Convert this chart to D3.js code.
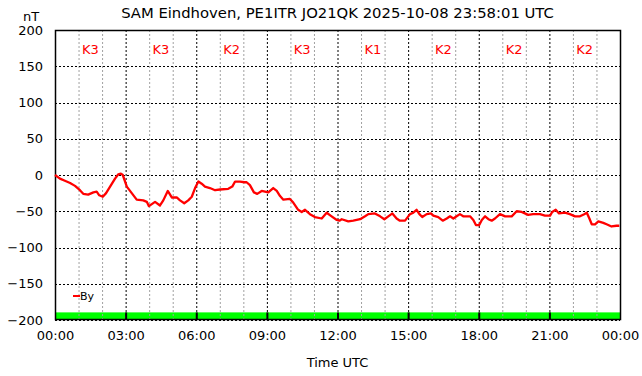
<!DOCTYPE html>
<html><head><meta charset="utf-8">
<script src="https://cdn.jsdelivr.net/npm/d3@7"></script>
<style>
html,body{margin:0;padding:0;background:#fff;}
svg{display:block;font-family:"DejaVu Sans",sans-serif;}
</style></head>
<body>
<svg id="chart" width="642" height="376"></svg>
<script>
// Hours since 00:00 UTC
const times = [0.00,0.21,0.42,0.64,0.85,1.06,1.20,1.41,1.63,1.77,1.88,2.03,2.17,2.34,2.55,2.69,2.80,2.88,3.05,3.26,3.47,3.75,3.90,3.99,
4.25,4.46,4.60,4.79,4.96,5.17,5.31,5.49,5.66,5.81,5.95,6.09,6.23,6.37,6.58,6.80,7.01,7.36,7.53,7.65,7.86,8.04,
8.14,8.28,8.45,8.59,8.78,9.06,9.27,9.42,9.56,9.70,9.98,10.12,10.33,10.48,10.62,10.83,11.04,11.33,11.54,11.75,11.97,12.08,
12.18,12.46,12.67,12.96,13.17,13.31,13.59,13.81,13.99,14.16,14.33,14.51,14.65,14.87,15.08,15.22,15.36,15.48,15.60,15.79,15.97,
16.07,16.28,16.47,16.64,16.78,16.92,17.06,17.20,17.34,17.63,17.77,17.88,18.02,18.13,18.27,18.41,18.55,18.69,18.90,19.12,19.40,19.61,19.82,19.96,
20.10,20.31,20.60,20.81,21.03,21.12,21.27,21.41,21.66,21.87,22.09,22.30,22.48,22.59,22.70,22.80,22.94,23.08,23.29,23.43,23.64,23.85,23.97];
// By component, nT
const byValues = [0,-5,-8,-11,-15,-21,-26,-27,-24,-23,-28,-30,-25,-16,-5,1,2,0,-16,-25,-34,-35,-37,-43,
-37,-42,-35,-22,-31,-31,-35,-39,-35,-30,-18,-9,-12,-16,-18,-21,-20,-19,-16,-9,-9,-10,
-10,-14,-24,-26,-22,-24,-18,-22,-29,-34,-33,-38,-48,-51,-48,-54,-58,-60,-52,-57,-62,-63,
-61,-64,-63,-61,-57,-54,-53,-57,-61,-57,-53,-60,-63,-63,-54,-52,-48,-54,-58,-54,-53,
-56,-58,-63,-60,-57,-60,-57,-54,-57,-57,-62,-69,-69,-62,-57,-61,-63,-60,-54,-57,-57,-50,-51,-53,
-55,-54,-54,-56,-56,-51,-48,-53,-52,-54,-57,-57,-54,-52,-60,-68,-68,-64,-66,-68,-71,-70,-70];
// K index per 3-hour block
const kIndex = [3,3,2,3,1,2,2,2];
const kStarts = [0,3,6,9,12,15,18,21];
const yTicks = [200,150,100,50,0,-50,-100,-150,-200];
const xTicks = [0,3,6,9,12,15,18,21,24];
const xTickLabels = ["00:00","03:00","06:00","09:00","12:00","15:00","18:00","21:00","00:00"];
const titleText = "SAM Eindhoven, PE1ITR JO21QK 2025-10-08 23:58:01 UTC";

const L=55, R=620, T=30, B=320;
const svg = d3.select("#chart");
const x = d3.scaleLinear().domain([0,24]).range([L,R]);
const y = d3.scaleLinear().domain([-200,200]).range([B,T]);

// green K bars
const kb = svg.append("g");
kb.selectAll("rect").data(kStarts).join("rect")
  .attr("x", d=>x(d)).attr("width", x(3)-x(0))
  .attr("y", y(-189.5)).attr("height", y(-200)-y(-189.5))
  .attr("fill","#00ff00");

// minor vertical gridlines (hourly)
const minor = d3.range(1,24).filter(h=>h%3!==0);
svg.append("g").selectAll("line").data(minor).join("line")
  .attr("x1",d=>x(d)+0.5).attr("x2",d=>x(d)+0.5).attr("y1",T).attr("y2",B)
  .attr("stroke","#a0a0a0").attr("stroke-width",1).attr("stroke-dasharray","2,2");
// major vertical
svg.append("g").selectAll("line").data(xTicks.slice(1,-1)).join("line")
  .attr("x1",d=>x(d)+0.5).attr("x2",d=>x(d)+0.5).attr("y1",T).attr("y2",B)
  .attr("stroke","#000").attr("stroke-width",1).attr("stroke-dasharray","2,2");
// horizontal
svg.append("g").selectAll("line").data(yTicks.slice(1)).join("line")
  .attr("x1",L).attr("x2",R).attr("y1",d=>Math.round(y(d))+0.5).attr("y2",d=>Math.round(y(d))+0.5)
  .attr("stroke","#000").attr("stroke-width",1).attr("stroke-dasharray","2,2");
// separators through green
svg.append("g").selectAll("line").data(kStarts.slice(1)).join("line")
  .attr("x1",d=>x(d)+0.5).attr("x2",d=>x(d)+0.5).attr("y1",y(-189.5)).attr("y2",B)
  .attr("stroke","#000").attr("stroke-width",2);

// frame
svg.append("rect").attr("x",L+0.5).attr("y",T+0.5).attr("width",R-L).attr("height",B-T-1)
  .attr("fill","none").attr("stroke","#000").attr("stroke-width",1.5);

// axes labels via d3 axes
const yAxis = d3.axisLeft(y).tickValues(yTicks).tickSize(0).tickPadding(12);
const gy = svg.append("g").attr("transform",`translate(${L},0)`).call(yAxis);
gy.select(".domain").remove();
gy.selectAll("text").attr("font-size",13).attr("font-family","DejaVu Sans").attr("fill","#000");

const xAxis = d3.axisBottom(x).tickValues(xTicks).tickSize(0).tickPadding(11)
  .tickFormat((d,i)=>xTickLabels[i]);
const gx = svg.append("g").attr("transform",`translate(0,${B})`).call(xAxis);
gx.select(".domain").remove();
gx.selectAll("text").attr("font-size",13).attr("font-family","DejaVu Sans").attr("fill","#000");

// K labels
svg.append("g").selectAll("text").data(kIndex).join("text")
  .attr("x",(d,i)=>x(kStarts[i]+1.5)).attr("y",54).attr("text-anchor","middle")
  .attr("font-size",13).attr("fill","#ff0000").text(d=>"K"+d);

// data line
const data = times.map((t,i)=>({t, v:byValues[i]}));
svg.append("path").datum(data)
  .attr("fill","none").attr("stroke","#ff0000").attr("stroke-width",2.3).attr("stroke-linejoin","round")
  .attr("d", d3.line().x(d=>x(d.t)).y(d=>y(d.v)));

// legend
svg.append("line").attr("x1",73).attr("x2",80).attr("y1",296).attr("y2",296).attr("stroke","#ff0000").attr("stroke-width",2);
svg.append("text").attr("x",80).attr("y",300).attr("font-size",11).attr("fill","#000").text("By");

// title & labels
svg.append("text").attr("x",(L+R)/2).attr("y",18).attr("text-anchor","middle").attr("font-size",14.8).text(titleText);
svg.append("text").attr("x",31).attr("y",21).attr("text-anchor","middle").attr("font-size",13).text("nT");
svg.append("text").attr("x",(L+R)/2).attr("y",367).attr("text-anchor","middle").attr("font-size",13).text("Time UTC");
</script>
</body></html>
